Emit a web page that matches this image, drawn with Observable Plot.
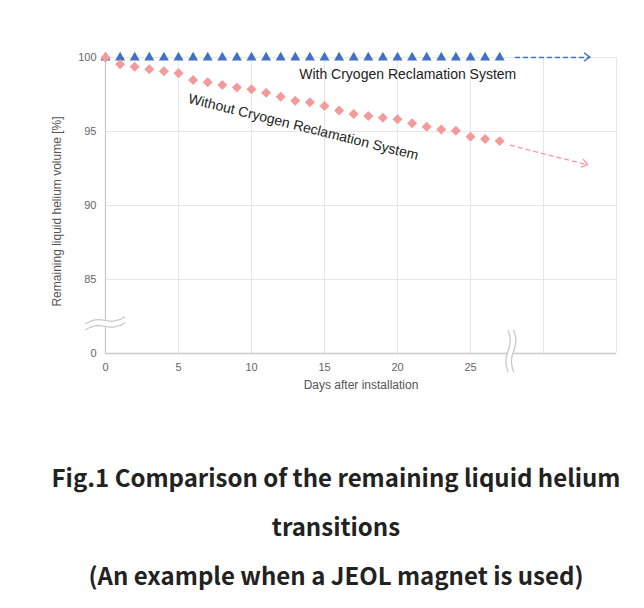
<!DOCTYPE html>
<html><head><meta charset="utf-8">
<script src="https://cdn.jsdelivr.net/npm/d3@7"></script>
<script src="https://cdn.jsdelivr.net/npm/@observablehq/plot@0.6"></script>
<style>
body{margin:0;background:#fff;}
#chart svg{display:block}
.title{margin:52px 0 0 28px;width:616px;text-align:center;font-family:"Noto Sans CJK JP","Noto Sans",sans-serif;font-weight:700;font-size:24px;line-height:49px;color:#222;}
</style></head><body>
<div id="chart"></div>
<div class="title">Fig.1 Comparison of the remaining liquid helium<br>transitions<br>(An example when a JEOL magnet is used)</div>
<script>
// ---- data ----
const days = [0,1,2,3,4,5,6,7,8,9,10,11,12,13,14,15,16,17,18,19,20,21,22,23,24,25,26,27];
const withSystem = [100,100,100,100,100,100,100,100,100,100,100,100,100,100,100,100,100,100,100,100,100,100,100,100,100,100,100,100];
const withoutSystem = [100,99.55,99.38,99.2,99.07,98.93,98.48,98.32,98.14,97.98,97.85,97.62,97.35,97.08,96.97,96.72,96.42,96.18,96.04,95.93,95.82,95.55,95.32,95.14,95.05,94.65,94.49,94.35];
// projected trend (dashed arrows): start day, start value, end day, end value
const trendWithStart = [28.05, 100];
const trendWithEnd = [33.2, 100];
const trendWithoutStart = [27.7, 94.08];
const trendWithoutEnd = [33.05, 92.73];
// axes
const xTicks = [0,5,10,15,20,25];
const xGrid = [5,10,15,20,25,30,35];
const yTicks = [80,85,90,95,100];
const yTickLabels = ["0","85","90","95","100"];
const yGrid = [85,90,95,100];
const yBreakAt = 82;    // axis break on y (between 0 and 85)
const xBreakAt = 27.8;  // axis break on x
const seriesNames = ["With Cryogen Reclamation System","Without Cryogen Reclamation System"];
const xLabel = "Days after installation";
const yLabel = "Remaining liquid helium volume [%]";

// ---- styles ----
const BLUE = "#4170c4", PINK = "#f59a9b", GRID = "#e6e6e6", AXIS = "#c9c9c9";

const rows = days.map((d,i)=>({day:d, withSys:withSystem[i], withoutSys:withoutSystem[i]}));
const trends = [
  {x1:trendWithStart[0], y1:trendWithStart[1], x2:trendWithEnd[0], y2:trendWithEnd[1], c:BLUE},
  {x1:trendWithoutStart[0], y1:trendWithoutStart[1], x2:trendWithoutEnd[0], y2:trendWithoutEnd[1], c:PINK}
];
const annotations = [
  {text:seriesNames[0], x:20.7, y:98.82, rotate:0},
  {text:seriesNames[1], x:13.55, y:95.3, rotate:14}
];

function decorations(index, scales) {
  const {x, y} = scales;
  const g = d3.create("svg:g");
  const N = 24;
  // y-axis break (horizontal tildes)
  {
    const cx = x(0), cy = y(yBreakAt);
    const line = (off) => d3.range(N+1).map(i => {
      const t = -1 + 2*i/N;
      return [cx + t*20, cy + off + 2.2*Math.sin(Math.PI*t) - 3.5*t];
    });
    const a = line(-3), b = line(3);
    g.append("path").attr("d", d3.line()(a.concat(b.slice().reverse())) + "Z").attr("fill","#fff");
    for (const l of [a,b]) g.append("path").attr("d", d3.line()(l)).attr("fill","none").attr("stroke",AXIS).attr("stroke-width",1.3);
  }
  // x-axis break (vertical tildes)
  {
    const cx = x(xBreakAt), cy = y(80) - 2;
    const line = (off) => d3.range(N+1).map(i => {
      const t = -1 + 2*i/N;
      return [cx + off - 2.2*Math.sin(Math.PI*t), cy + t*21];
    });
    const a = line(-2.8), b = line(2.8);
    g.append("path").attr("d", d3.line()(a.concat(b.slice().reverse())) + "Z").attr("fill","#fff");
    for (const l of [a,b]) g.append("path").attr("d", d3.line()(l)).attr("fill","none").attr("stroke",AXIS).attr("stroke-width",1.3);
  }
  // arrowheads
  for (const tr of trends) {
    const X1 = x(tr.x1), Y1 = y(tr.y1), X2 = x(tr.x2), Y2 = y(tr.y2);
    const ang = Math.atan2(Y2-Y1, X2-X1), L = 7, w = Math.PI/5;
    const p = [[X2 - L*Math.cos(ang - w), Y2 - L*Math.sin(ang - w)], [X2, Y2], [X2 - L*Math.cos(ang + w), Y2 - L*Math.sin(ang + w)]];
    g.append("path").attr("d", d3.line()(p)).attr("fill","none").attr("stroke",tr.c).attr("stroke-width",1.3);
  }
  return g.node();
}

const chart = Plot.plot({
  width:644, height:400,
  marginLeft:105, marginRight:28, marginTop:57, marginBottom:47,
  style:{fontFamily:"'Liberation Sans', Arial, sans-serif", fontSize:"11px", color:"#666", background:"#fff"},
  x:{domain:[0,35]},
  y:{domain:[80,100]},
  marks:[
    Plot.gridX(xGrid, {stroke:GRID, strokeOpacity:1}),
    Plot.gridY(yGrid, {stroke:GRID, strokeOpacity:1}),
    Plot.ruleX([0], {stroke:AXIS, strokeWidth:1.3}),
    Plot.ruleY([80], {stroke:AXIS, strokeWidth:1.3}),
    Plot.axisX(xTicks, {tickSize:0, tickPadding:10, label:null, fill:"#666"}),
    Plot.axisY(yTicks, {tickSize:0, tickPadding:9, label:null, fill:"#666", tickFormat:(d)=>yTickLabels[yTicks.indexOf(d)]}),
    Plot.text([xLabel], {frameAnchor:"bottom", dy:35, text:d=>d, fill:"#555", fontSize:12}),
    Plot.text([yLabel], {frameAnchor:"left", textAnchor:"middle", rotate:-90, dx:-48, dy:6, text:d=>d, fill:"#555", fontSize:12}),
    Plot.link(trends, {x1:"x1", y1:"y1", x2:"x2", y2:"y2", stroke:"c", strokeDasharray:"5,3", strokeWidth:1.3}),
    decorations,
    Plot.dot(rows, {x:"day", y:"withSys", symbol:"triangle", r:3.7, fill:BLUE}),
    Plot.dot(rows, {x:"day", y:"withoutSys", symbol:"diamond2", r:4.5, fill:PINK}),
    Plot.text(annotations, {x:"x", y:"y", text:"text", rotate:"rotate", fontSize:14, fill:"#222"})
  ]
});
document.getElementById("chart").append(chart);
</script>
</body></html>
